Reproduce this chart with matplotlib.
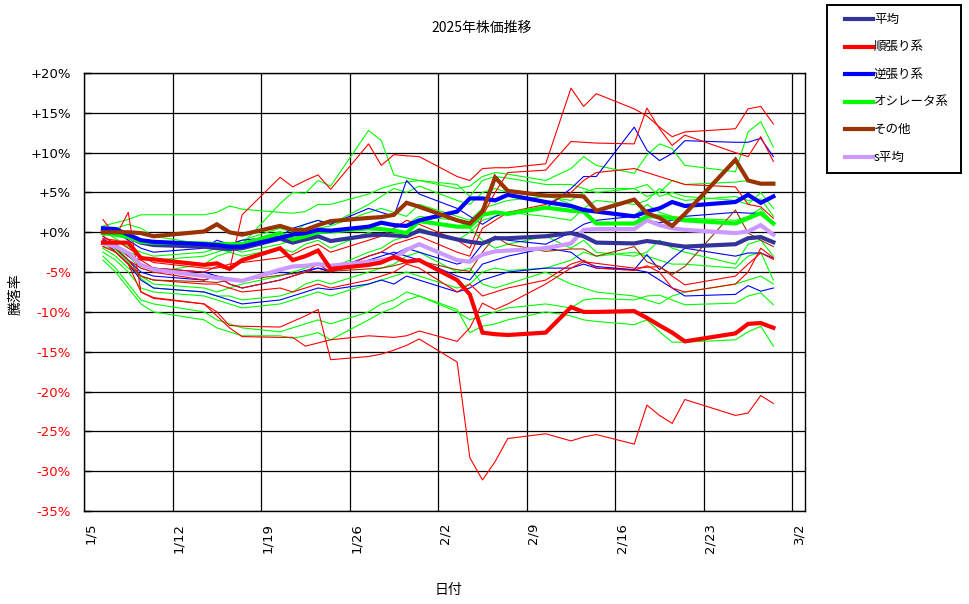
import matplotlib
matplotlib.use('Agg')
import matplotlib.pyplot as plt
import matplotlib.dates as mdates
from matplotlib.lines import Line2D
from datetime import datetime, timedelta

plt.rcParams['font.family'] = ['Noto Sans CJK JP', 'DejaVu Sans']

# ---------------- data ----------------
dates = ["1/6", "1/7", "1/8", "1/9", "1/10",
         "1/14", "1/15", "1/16", "1/17",
         "1/20", "1/21", "1/22", "1/23", "1/24",
         "1/27", "1/28", "1/29", "1/30", "1/31",
         "2/3", "2/4", "2/5", "2/6", "2/7",
         "2/10", "2/12", "2/13", "2/14",
         "2/17", "2/18", "2/19", "2/20", "2/21",
         "2/25", "2/26", "2/27", "2/28"]

tick_labels = ["1/5", "1/12", "1/19", "1/26", "2/2", "2/9", "2/16", "2/23", "3/2"]

heikin = ([0.3, 0.1, -0.6, -1.3, -1.6] + [-1.8, -2.0, -2.1, -2.0] +
          [-0.8, -1.3, -0.9, -0.5, -1.1] + [-0.4, -0.3, -0.4, -0.5, 0.2] +
          [-0.9, -1.2, -1.4, -0.75, -0.75] + [-0.5, -0.1, -0.5, -1.3] +
          [-1.4, -1.1, -1.3, -1.6, -1.8] + [-1.5, -0.75, -0.6, -1.25])

junbari = ([-1.3, -1.3, -1.3, -3.25, -3.4] + [-4.1, -3.9, -4.6, -3.5] +
           [-2.0, -3.5, -3.0, -2.3, -4.6] + [-4.1, -3.8, -3.1, -3.7, -3.5] +
           [-6.0, -7.8, -12.6, -12.8, -12.9] + [-12.6, -9.4, -10.0, -10.0] +
           [-9.9, -10.75, -11.7, -12.6, -13.7] + [-12.7, -11.5, -11.4, -12.0])

gyakubari = ([0.5, 0.4, -0.3, -1.0, -1.2] + [-1.5, -1.6, -1.8, -1.8] +
             [-0.7, -0.3, -0.1, 0.3, 0.2] + [0.7, 1.2, 0.9, 0.8, 1.5] +
             [2.6, 4.25, 4.25, 4.0, 4.7] + [3.8, 3.3, 2.8, 2.6] +
             [2.0, 2.6, 3.0, 3.8, 3.3] + [3.8, 4.7, 3.7, 4.5])

oscillator = ([-0.1, -0.3, -0.6, -1.2, -1.3] + [-1.4, -1.5, -1.5, -1.5] +
              [-0.1, -0.9, -0.5, 0.0, 0.1] + [0.5, 0.4, 0.2, -0.1, 1.4] +
              [0.7, 0.7, 2.2, 2.5, 2.3] + [3.1, 2.7, 2.6, 1.1] +
              [1.1, 2.0, 2.0, 1.75, 1.5] + [1.1, 1.75, 2.4, 1.1])

sonota = ([0.0, 0.0, 0.0, -0.1, -0.5] + [0.1, 1.0, 0.0, -0.3] +
          [0.8, 0.3, 0.3, 0.9, 1.4] + [1.8, 1.9, 2.2, 3.7, 3.2] +
          [1.5, 1.1, 2.6, 6.9, 5.2] + [4.6, 4.6, 4.5, 2.7] +
          [4.1, 2.4, 1.8, 0.8, 2.3] + [9.1, 6.5, 6.1, 6.1])

s_heikin = ([-1.4, -1.8, -2.6, -4.1, -4.7] + [-5.5, -5.75, -5.9, -6.1] +
            [-4.7, -4.3, -4.2, -4.0, -4.2] + [-3.7, -3.5, -3.25, -2.2, -1.5] +
            [-3.5, -3.7, -2.8, -2.4, -2.3] + [-2.0, -1.4, 0.3, 0.4] +
            [0.4, 1.5, 0.9, 0.5, 0.3] + [-0.1, 0.1, 0.9, -0.3])

# individual members (thin lines)
red_members = [
    [1.6, -0.5, 2.5, -7.5, -8.2] + [-9.0, -10.0, -11.7, -11.8] +
    [-11.9, -11.2, -10.5, -9.7, -16.0] + [-15.6, -15.3, -14.8, -14.2, -13.4] +
    [-16.3, -28.3, -31.1, -28.8, -25.9] + [-25.3, -26.2, -25.7, -25.4] +
    [-26.6, -21.7, -23.0, -24.0, -21.0] + [-23.0, -22.7, -20.5, -21.5],
    [-1.8, -2.5, -4.0, -7.5, -8.3] + [-9.0, -10.5, -12.0, -13.1] +
    [-13.2, -13.2, -14.3, -13.9, -13.5] + [-13.0, -13.1, -13.2, -13.0, -12.4] +
    [-13.7, -12.0, -8.9, -9.7, -9.0] + [-6.5, -4.5, -3.7, -3.9] +
    [-4.5, -4.4, -4.3, -5.5, -6.6] + [-5.5, -4.0, -2.6, -3.4],
    [-0.5, -1.5, -3.0, -3.5, -4.5] + [-5.0, -4.3, -4.7, 2.2] +
    [6.9, 5.7, 6.5, 7.2, 5.4] + [11.1, 8.4, 9.75, 9.6, 9.5] +
    [7.0, 6.5, 8.0, 8.1, 8.1] + [8.6, 18.1, 15.8, 17.4] +
    [15.5, 14.6, 13.2, 12.0, 12.6] + [13.0, 15.5, 15.8, 13.6],
    [-0.8, -1.0, -2.0, -3.0, -3.8] + [-4.5, -4.5, -4.0, -3.8] +
    [-3.2, -2.8, -2.0, -1.5, -2.5] + [-1.0, -0.5, 0.5, 1.5, 1.0] +
    [-1.0, -2.0, 2.0, 5.0, 7.5] + [7.8, 11.4, 11.3, 11.2] +
    [11.1, 15.6, 13.0, 10.9, 12.2] + [10.0, 9.5, 12.0, 8.9],
    [-1.5, -2.0, -3.5, -4.5, -5.0] + [-6.0, -5.5, -6.5, -7.0] +
    [-6.0, -5.5, -5.0, -4.0, -5.0] + [-3.0, -2.5, -1.5, -1.0, -0.5] +
    [-2.5, -3.0, 0.5, 1.5, 2.5] + [3.5, 5.0, 6.5, 7.5] +
    [8.0, 7.5, 7.0, 6.5, 6.0] + [5.7, 3.5, 3.2, 1.75],
    [-1.2, -2.5, -4.0, -5.5, -6.0] + [-6.5, -6.5, -7.0, -7.5] +
    [-7.0, -7.5, -7.0, -6.5, -7.0] + [-6.0, -5.5, -5.0, -4.0, -4.5] +
    [-7.5, -6.5, -8.0, -7.5, -7.0] + [-6.0, -4.0, -3.5, -4.5] +
    [-4.8, -4.2, -5.0, -7.0, -7.5] + [-6.5, -5.0, -2.0, -3.2],
]

blue_members = [
    [0.5, 0.0, -1.0, -2.0, -2.5] + [-2.0, -1.0, -1.5, -1.0] +
    [-0.5, 0.5, 1.0, 1.5, 1.0] + [3.0, 2.5, 2.0, 6.5, 4.8] +
    [3.0, 2.0, 1.0, 2.0, 2.5] + [3.0, 5.5, 7.0, 7.0] +
    [13.2, 10.3, 9.0, 9.9, 11.5] + [11.3, 11.3, 11.8, 9.5],
    [-0.5, -1.5, -3.0, -4.0, -4.5] + [-5.0, -5.5, -5.8, -6.0] +
    [-5.0, -5.2, -4.8, -4.5, -4.8] + [-3.0, -2.5, -2.8, -2.0, -2.5] +
    [-4.0, -3.5, -1.5, -0.5, -1.0] + [-1.5, 0.0, 1.0, 1.5] +
    [2.0, 1.5, 1.2, 1.5, 2.0] + [2.5, 2.4, 2.4, 1.1],
    [-0.8, -2.0, -3.5, -5.0, -5.5] + [-6.0, -5.5, -6.5, -7.0] +
    [-6.0, -5.5, -5.0, -4.5, -5.0] + [-3.5, -3.0, -2.5, -3.0, -3.5] +
    [-5.5, -6.0, -4.0, -3.5, -3.0] + [-2.0, -2.5, -3.7, -4.3] +
    [-4.7, -2.8, -4.7, -3.3, -2.0] + [-3.0, -2.6, -2.6, -3.25],
    [-1.0, -2.5, -4.0, -6.0, -7.0] + [-7.5, -8.0, -8.5, -9.0] +
    [-8.5, -8.0, -7.5, -7.0, -7.2] + [-6.5, -6.0, -6.5, -5.5, -6.0] +
    [-7.5, -7.0, -6.0, -5.5, -5.0] + [-4.5, -4.5, -4.0, -4.5] +
    [-4.7, -5.0, -6.0, -7.0, -8.0] + [-7.8, -6.7, -7.4, -7.0],
]

green_members = [
    [0.8, 1.2, 1.6, 2.2, 2.2] + [2.2, 2.5, 3.3, 2.9] +
    [2.5, 2.4, 2.6, 3.5, 3.5] + [4.8, 5.5, 6.0, 6.3, 6.5] +
    [5.5, 5.8, 7.0, 7.5, 7.3] + [6.5, 8.0, 9.5, 8.4] +
    [7.4, 9.7, 11.1, 10.5, 8.4] + [7.6, 12.6, 13.9, 10.7],
    [-1.5, -2.0, -3.0, -4.5, -5.0] + [-4.0, -3.0, -2.5, -1.5] +
    [3.6, 5.0, 4.9, 6.5, 5.8] + [12.8, 11.5, 7.2, 6.8, 6.5] +
    [6.0, 4.5, 6.5, 7.0, 6.8] + [6.0, 6.0, 5.5, 5.0] +
    [5.5, 4.5, 5.0, 6.5, 6.0] + [6.3, 6.5, 6.2, 6.3],
    [-1.0, -1.5, -2.5, -3.0, -3.5] + [-3.0, -2.5, -2.0, -2.5] +
    [-1.5, -1.0, -0.5, 0.5, 0.8] + [2.5, 3.0, 2.5, 2.0, 3.5] +
    [2.0, 1.5, 3.0, 3.5, 4.0] + [4.5, 4.0, 5.0, 5.5] +
    [5.5, 6.0, 4.5, 5.0, 4.5] + [4.0, 3.5, 5.0, 3.0],
    [-2.0, -3.0, -4.5, -5.5, -6.5] + [-7.0, -7.5, -7.0, -6.5] +
    [-5.5, -5.0, -4.5, -4.0, -4.5] + [-2.5, -2.0, -1.0, -0.5, 0.5] +
    [-1.0, 0.0, 1.5, 2.0, 2.5] + [2.0, 1.5, 3.0, 2.5] +
    [2.0, 3.5, 2.5, 2.0, 1.8] + [1.5, 2.0, 3.0, 1.1],
    [-2.5, -3.5, -5.0, -7.0, -7.5] + [-8.0, -8.5, -9.0, -9.5] +
    [-9.0, -8.5, -8.0, -7.5, -8.0] + [-6.5, -6.0, -5.5, -5.0, -5.5] +
    [-7.0, -6.5, -5.0, -4.5, -4.8] + [-4.5, -3.5, -2.5, -3.0] +
    [-2.5, -3.0, -3.5, -4.0, -4.0] + [-4.5, -3.0, -2.5, -6.0],
    [-3.0, -4.5, -6.5, -8.5, -9.0] + [-10.0, -11.0, -11.5, -12.0] +
    [-12.5, -12.0, -11.5, -11.0, -11.5] + [-10.0, -9.0, -8.5, -7.5, -8.0] +
    [-10.0, -11.0, -10.5, -10.0, -9.5] + [-9.0, -9.5, -8.5, -8.3] +
    [-8.5, -8.0, -7.9, -8.5, -9.1] + [-8.9, -8.0, -7.6, -9.1],
    [-3.5, -5.0, -7.0, -9.0, -10.0] + [-11.0, -12.0, -12.5, -13.0] +
    [-13.0, -13.3, -13.0, -12.6, -13.5] + [-11.0, -10.1, -9.5, -8.5, -8.0] +
    [-9.7, -12.6, -11.8, -11.5, -11.0] + [-10.0, -10.5, -11.0, -11.2] +
    [-11.6, -11.0, -12.5, -13.8, -13.8] + [-13.5, -12.5, -11.8, -14.3],
    [-0.5, 0.5, 1.0, 0.5, -0.5] + [-1.5, -2.0, -2.5, -3.0] +
    [-2.0, -2.5, -1.5, -1.0, -2.0] + [0.0, -0.5, 0.5, 1.0, 2.0] +
    [1.5, 0.5, -1.0, -2.0, -1.5] + [-0.5, -2.0, -1.0, -2.5] +
    [-3.0, -2.5, -1.0, -2.0, -2.5] + [-4.0, -1.5, -1.0, -3.0],
    [-1.8, -2.2, -3.8, -5.8, -7.0] + [-7.5, -8.0, -8.0, -8.5] +
    [-8.0, -7.5, -6.5, -6.0, -6.5] + [-5.0, -4.5, -4.0, -3.0, -2.5] +
    [-5.0, -4.5, -6.5, -7.0, -6.5] + [-5.0, -6.5, -7.0, -7.5] +
    [-8.0, -8.5, -9.0, -8.0, -7.5] + [-6.5, -6.0, -5.5, -6.5],
    [0.2, -0.8, -1.8, -2.5, -3.0] + [-2.5, -2.0, -1.5, -1.0] +
    [0.5, 0.0, 1.0, 1.5, 1.0] + [3.5, 4.5, 5.5, 5.0, 5.8] +
    [4.0, 3.5, 5.0, 5.5, 5.0] + [4.8, 3.5, 3.0, 4.0] +
    [3.5, 4.0, 5.5, 4.5, 4.0] + [4.5, 4.0, 4.2, 2.0],
]

brown_members = [
    [-1.0, -2.0, -3.5, -5.5, -6.0] + [-6.2, -6.3, -6.0, -6.0] +
    [-5.4, -5.2, -5.0, -4.9, -4.9] + [-4.6, -4.5, -4.2, -3.8, -3.6] +
    [-4.7, -4.9, -2.5, -0.5, -1.5] + [-2.4, -2.1, -2.1, -3.0] +
    [-1.8, -3.7, -4.3, -5.3, -4.3] + [2.8, -0.1, -1.0, -1.8],
]

series_names = ["平均", "順張り系", "逆張り系", "オシレータ系", "その他", "s平均"]
series_values = [heikin, junbari, gyakubari, oscillator, sonota, s_heikin]
series_colors = ["#333399", "#FF0000", "#0000FF", "#00FF00", "#993300", "#CC99FF"]

# ---------------- figure ----------------
W, H = 970, 604
fig = plt.figure(figsize=(W / 100, H / 100), dpi=100)
fig.patch.set_facecolor('white')

L, R, T, B = 84, 805, 73, 511
ax = fig.add_axes([L / W, 1 - B / H, (R - L) / W, (B - T) / H])

def to_num(s):
    m, d = s.split('/')
    return mdates.date2num(datetime(2025, int(m), int(d)) + timedelta(hours=12))

x = [to_num(s) for s in dates]
tick_pos = [mdates.date2num(datetime(2025, int(s.split('/')[0]), int(s.split('/')[1])))
            for s in tick_labels]

thin_lw = 0.8
for vals in green_members:
    ax.plot(x, vals, color="#00FF00", lw=thin_lw, zorder=3)
for vals in blue_members:
    ax.plot(x, vals, color="#0000FF", lw=thin_lw, zorder=3)
for vals in red_members:
    ax.plot(x, vals, color="#FF0000", lw=thin_lw, zorder=3)
for vals in brown_members:
    ax.plot(x, vals, color="#993300", lw=thin_lw, zorder=3)

thick_order = [5, 0, 1, 3, 2, 4]
for k, i in enumerate(thick_order):
    ax.plot(x, series_values[i], color=series_colors[i], lw=3.0,
            solid_joinstyle='miter', zorder=5 + k)

ax.set_xlim(mdates.date2num(datetime(2025, 1, 5)), mdates.date2num(datetime(2025, 3, 3)))
ax.set_ylim(-35, 20)

ax.set_xticks(tick_pos)
ax.set_xticklabels(tick_labels, rotation=90, fontsize=9.5, family=['DejaVu Sans'])
for lab in ax.get_xticklabels():
    lab.set_horizontalalignment('left')
ax.tick_params(axis='x', length=0, pad=8.5)

yt = list(range(-35, 21, 5))
ax.set_yticks(yt)
ylabels = []
for v in yt:
    ylabels.append(("+%d%%" % v) if v >= 0 else ("-%d%%" % -v))
ax.set_yticklabels(ylabels, fontsize=9.5, family=['DejaVu Sans'])
for v, lab in zip(yt, ax.get_yticklabels()):
    lab.set_color('red' if v < 0 else 'black')
ax.tick_params(axis='y', direction='in', length=5, width=1, pad=9.5)

ax.grid(True, color='black', lw=0.9, zorder=1)
ax.set_axisbelow(True)
for sp in ax.spines.values():
    sp.set_color('black')
    sp.set_linewidth(1.0)

# texts
fig.text(482 / W, 1 - 28 / H, "2025年株価推移", ha='center', va='center', fontsize=10)
fig.text(448 / W, 1 - 590 / H, "日付", ha='center', va='center', fontsize=10)
fig.text(16 / W, 1 - 294 / H, "騰落率", ha='center', va='center', fontsize=10, rotation=90)

# legend (drawn in its own box)
lx0, ly0, lx1, ly1 = 827, 5, 961, 173
lax = fig.add_axes([lx0 / W, 1 - ly1 / H, (lx1 - lx0) / W, (ly1 - ly0) / H])
lax.set_xlim(0, lx1 - lx0)
lax.set_ylim(ly1 - ly0, 0)
lax.set_xticks([])
lax.set_yticks([])
for sp in lax.spines.values():
    sp.set_color('black')
    sp.set_linewidth(1.4)
for i, (name, col) in enumerate(zip(series_names, series_colors)):
    yy = 14 + i * 27.6
    lax.add_line(Line2D([18, 46], [yy, yy], color=col, lw=3.0))
    lax.text(47, yy, name, va='center', ha='left', fontsize=9)

fig.savefig("out.png", dpi=100)
